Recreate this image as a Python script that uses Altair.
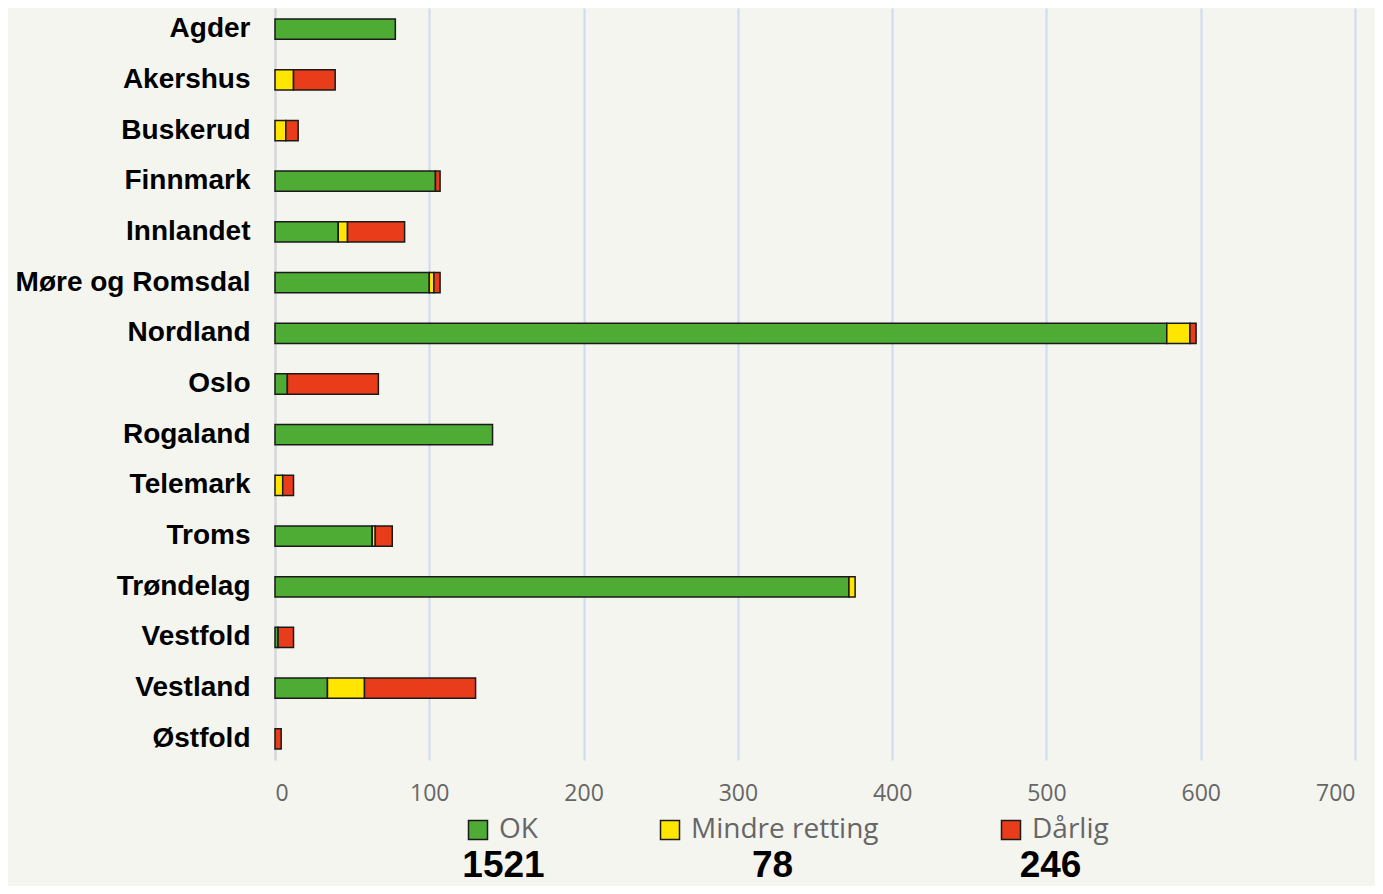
import altair as alt
import pandas as pd

regions = ["Agder", "Akershus", "Buskerud", "Finnmark", "Innlandet", "Møre og Romsdal",
           "Nordland", "Oslo", "Rogaland", "Telemark", "Troms", "Trøndelag",
           "Vestfold", "Vestland", "Østfold"]
ok     = [78, 0, 0, 104, 41, 100, 578, 8, 141, 0, 63, 372, 2, 34, 0]
mindre = [0, 12, 7, 0, 6, 3, 15, 0, 0, 5, 2, 4, 0, 24, 0]
darlig = [0, 27, 8, 3, 37, 4, 4, 59, 0, 7, 11, 0, 10, 72, 4]

categories = ["OK", "Mindre retting", "Dårlig"]
colors = ["#4EAC34", "#FFE500", "#E83C1A"]
x_ticks = [0, 100, 200, 300, 400, 500, 600, 700]

rows = []
for series_idx, (cat, vals) in enumerate(zip(categories, [ok, mindre, darlig])):
    for reg, v in zip(regions, vals):
        if v > 0:
            rows.append({"region": reg, "category": cat, "value": v, "ord": series_idx})
df = pd.DataFrame(rows)

totals = [sum(ok), sum(mindre), sum(darlig)]

bars = alt.Chart(df).mark_bar(stroke="#1a1a1a", strokeWidth=1.5).encode(
    y=alt.Y("region:N", sort=regions,
            scale=alt.Scale(paddingInner=0.6, paddingOuter=0.217),
            axis=alt.Axis(title=None, labelFont="Liberation Sans", labelFontWeight="bold",
                          labelFontSize=28, labelColor="#000000", labelPadding=25,
                          ticks=False, domainColor="#d6d6d6", domainWidth=2,
                          labelLimit=400, grid=False)),
    x=alt.X("value:Q", stack="zero",
            scale=alt.Scale(domain=[0, 700], nice=False),
            axis=alt.Axis(values=x_ticks, title=None, labelFont="Open Sans",
                          labelFontSize=23, labelColor="#666666", ticks=False,
                          domain=False, labelPadding=22, gridColor="#cfdaee",
                          gridWidth=2)),
    color=alt.Color("category:N",
                    scale=alt.Scale(domain=categories, range=colors),
                    legend=alt.Legend(title=None, orient="none", legendX=189, legendY=808,
                                      direction="horizontal", symbolType="square",
                                      symbolSize=361, symbolStrokeColor="#1a1a1a",
                                      symbolStrokeWidth=1.5, labelFont="Open Sans",
                                      labelFontSize=28, labelColor="#666666",
                                      labelOffset=7, columnPadding=118, padding=0,
                                      labelLimit=400)),
    order=alt.Order("ord:Q"),
)

total_layers = []
for cat, tot, px in zip(categories, totals, [228.5, 497.5, 775.5]):
    t = alt.Chart(pd.DataFrame({"category": [cat], "total": [str(tot)]})).mark_text(
        font="Liberation Sans", fontWeight="bold", fontSize=37, color="#000000",
        align="center", baseline="alphabetic"
    ).encode(text="total:N", x=alt.value(px), y=alt.value(869))
    total_layers.append(t)

chart = alt.layer(bars, *total_layers).properties(
    width=1080, height=752,
    autosize=alt.AutoSizeParams(type="none"),
    padding={"left": 267, "top": 0, "right": 20, "bottom": 126},
    background="#F5F5F0",
).configure_view(stroke=None)

chart.save("out.html", embed_options={"renderer": "svg", "actions": False})
